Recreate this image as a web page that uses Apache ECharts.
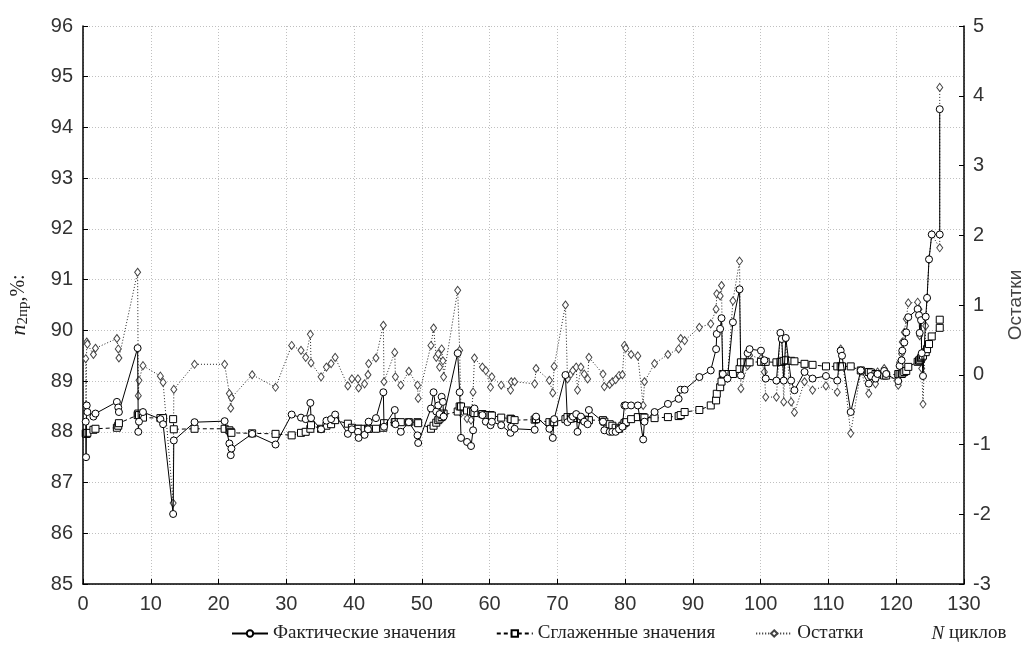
<!DOCTYPE html>
<html>
<head>
<meta charset="utf-8">
<script src="https://cdn.jsdelivr.net/npm/echarts@6/dist/echarts.min.js"></script>
<style>
html,body{margin:0;padding:0;background:#fff;}
#chart{width:1030px;height:653px;}
</style>
</head>
<body>
<div id="chart"></div>
<script>
// N cycles (x values)
const cycles = [0.40,0.45,0.55,0.65,1.54,1.84,5.0,5.2,5.3,8.06,8.16,8.26,8.85,11.42,11.82,13.30,13.40,16.46,20.90,21.60,21.80,21.90,
24.96,28.41,30.79,32.17,32.86,33.55,33.65,35.13,35.92,36.61,37.21,39.08,39.68,40.57,40.67,41.55,42.05,42.15,43.23,44.32,44.42,
46.00,46.10,46.89,48.08,49.36,49.46,51.34,51.73,52.13,52.42,52.62,52.92,53.11,53.21,55.29,55.58,55.78,56.67,57.26,57.56,57.76,
58.94,59.44,60.13,60.33,61.71,63.09,63.19,63.69,66.65,66.85,68.82,69.32,69.52,71.19,71.49,71.99,72.28,72.78,72.97,73.47,73.96,
74.46,74.65,76.73,76.93,77.72,78.11,78.60,79.10,79.59,79.89,80.09,80.88,81.87,82.66,82.85,84.34,86.31,87.89,88.19,88.78,90.95,
92.63,93.42,93.52,94.02,94.22,94.41,95.10,95.90,96.88,97.08,98.07,98.36,100.04,100.54,100.74,102.32,102.91,103.11,103.40,103.70,
104.49,104.98,106.47,107.65,109.63,111.30,111.80,112.00,113.28,114.77,115.95,116.25,116.94,117.24,118.22,118.52,120.30,120.50,
120.79,120.89,121.19,121.48,121.78,123.16,123.36,123.46,123.66,123.76,123.95,124.35,124.55,124.84,125.24,126.42,126.42];

// Фактические значения (left axis)
const actual = [88.20,87.50,88.52,88.39,88.30,88.36,88.59,88.48,88.39,89.65,88.00,88.20,88.39,88.25,88.15,86.38,87.83,88.19,88.21,87.77,87.54,87.67,
87.96,87.75,88.34,88.28,88.25,88.57,88.27,88.05,88.22,88.25,88.34,87.96,88.05,88.00,87.88,87.94,88.05,88.20,88.27,88.78,88.10,
88.43,88.15,88.00,88.19,87.93,87.78,88.46,88.78,88.40,88.52,88.35,88.69,88.59,88.30,89.55,88.78,87.88,87.80,87.72,88.03,88.46,
88.33,88.20,88.13,88.20,88.13,87.98,88.10,88.06,88.04,88.30,88.06,87.88,88.25,89.12,88.19,88.25,88.30,88.35,88.00,88.30,88.20,
88.15,88.43,88.20,88.03,88.00,88.00,88.00,88.05,88.10,88.52,88.52,88.52,88.52,87.85,88.20,88.39,88.55,88.65,88.83,88.83,89.08,
89.21,89.63,89.93,90.03,90.24,89.14,89.05,90.16,90.81,89.11,89.55,89.63,89.60,89.41,89.05,89.01,89.95,89.83,89.01,89.85,
89.01,88.82,89.18,89.05,89.10,89.01,89.60,89.50,88.39,89.21,88.95,89.10,89.05,89.14,89.20,89.14,89.00,89.30,
89.41,89.60,89.76,89.96,90.26,90.42,90.30,89.95,90.20,89.55,89.10,90.27,90.64,91.40,91.89,91.89,94.36];

// Сглаженные значения (left axis)
const smoothed = [87.97,87.96,87.96,87.98,88.04,88.06,88.08,88.12,88.17,88.33,88.36,88.33,88.28,88.27,88.27,88.25,88.05,88.06,88.06,88.03,88.00,87.98,
87.97,87.96,87.93,87.98,88.00,88.06,88.13,88.06,88.12,88.15,88.23,88.16,88.08,88.06,88.06,88.06,88.06,88.06,88.06,88.08,88.17,
88.19,88.19,88.19,88.19,88.19,88.17,88.06,88.12,88.18,88.23,88.26,88.29,88.33,88.36,88.40,88.50,88.50,88.42,88.40,88.39,88.37,
88.35,88.33,88.33,88.32,88.28,88.26,88.25,88.23,88.24,88.25,88.19,88.19,88.19,88.25,88.29,88.26,88.28,88.29,88.27,88.25,88.24,
88.23,88.23,88.23,88.20,88.15,88.12,88.08,88.06,88.12,88.17,88.19,88.25,88.29,88.29,88.28,88.27,88.29,88.31,88.33,88.39,88.43,
88.52,88.62,88.75,88.88,88.99,89.14,89.14,89.14,89.24,89.37,89.37,89.37,89.38,89.38,89.38,89.37,89.38,89.38,89.40,89.41,
89.40,89.39,89.34,89.32,89.29,89.29,89.29,89.29,89.29,89.21,89.18,89.17,89.14,89.13,89.11,89.11,89.14,89.14,
89.14,89.15,89.18,89.20,89.28,89.38,89.40,89.42,89.45,89.47,89.50,89.57,89.63,89.73,89.88,90.05,90.21];

// Остатки (right axis)
const residuals = [0.23,-0.44,0.47,0.44,0.29,0.38,0.52,0.37,0.24,1.47,-0.30,-0.08,0.13,-0.02,-0.11,-1.84,-0.21,0.15,0.15,-0.27,-0.48,-0.33,
0.00,-0.18,0.42,0.35,0.25,0.58,0.17,-0.03,0.11,0.16,0.25,-0.16,-0.06,-0.06,-0.19,-0.13,0.00,0.16,0.24,0.71,-0.10,
0.32,-0.03,-0.15,0.05,-0.15,-0.34,0.42,0.67,0.25,0.30,0.11,0.37,0.20,-0.03,1.21,0.35,-0.55,-0.63,-0.65,-0.25,0.24,
0.11,0.06,-0.18,-0.03,-0.15,-0.22,-0.10,-0.10,-0.13,0.09,-0.08,-0.26,0.12,1.00,-0.06,0.01,0.06,0.11,-0.22,0.11,0.01,
-0.06,0.25,0.01,-0.17,-0.14,-0.10,-0.07,-0.01,0.00,0.42,0.38,0.29,0.27,-0.44,-0.10,0.16,0.29,0.37,0.52,0.49,0.68,
0.73,0.94,1.16,1.13,1.28,0.01,-0.05,1.06,1.63,-0.20,0.13,0.28,0.23,0.04,-0.32,-0.32,0.59,0.51,-0.39,0.51,
-0.39,-0.54,-0.10,-0.22,-0.16,-0.25,0.37,0.28,-0.84,0.05,-0.27,-0.10,-0.13,0.04,0.09,0.04,-0.15,0.18,
0.30,0.47,0.61,0.80,1.03,1.04,0.94,0.56,0.80,0.09,-0.42,0.70,1.09,1.66,2.01,1.82,4.12];

const seriesNames = ['Фактические значения', 'Сглаженные значения', 'Остатки'];

const pairs = arr => cycles.map((x, i) => [x, arr[i]]);

const chart = echarts.init(document.getElementById('chart'), null, {renderer: 'canvas'});
const sans = 'Liberation Sans, Arial, sans-serif';
const serif = 'Liberation Serif, Times New Roman, serif';
const gridLine = {show: true, lineStyle: {color: '#c0c0c0', type: [1, 2], width: 1}};

chart.setOption({
  animation: false,
  backgroundColor: '#fff',
  grid: {left: 83, right: 66, top: 26, bottom: 69, containLabel: false, outerBoundsMode: 'none'},
  legend: {
    bottom: 5, left: 226,
    itemWidth: 36, itemHeight: 8, itemGap: 40,
    textStyle: {fontFamily: serif, fontSize: 19, color: '#222'},
    data: seriesNames
  },
  xAxis: {
    type: 'value', min: 0, max: 130, interval: 10,
    axisLine: {show: true, onZero: false, lineStyle: {color: '#000', width: 1.5}},
    axisTick: {show: true, inside: true, length: 5, lineStyle: {color: '#000'}},
    axisLabel: {fontFamily: sans, fontSize: 20, color: '#333', margin: 10},
    splitLine: gridLine,
    name: '{i|N} циклов',
    nameLocation: 'end', nameGap: 0,
    nameTextStyle: {
      fontFamily: serif, fontSize: 19, color: '#222', align: 'center', verticalAlign: 'top',
      padding: [40, 0, 0, 10],
      rich: {i: {fontFamily: serif, fontStyle: 'italic', fontSize: 19, color: '#222'}}
    }
  },
  yAxis: [{
    type: 'value', min: 85, max: 96, interval: 1,
    axisLine: {show: true, lineStyle: {color: '#000', width: 1.5}},
    axisTick: {show: true, inside: true, length: 5, lineStyle: {color: '#000'}},
    axisLabel: {fontFamily: sans, fontSize: 20, color: '#333', margin: 10},
    splitLine: gridLine,
    name: '{n|n}{s|2пр}{t|,%:}',
    nameLocation: 'middle', nameGap: 52, nameRotate: 90,
    nameTextStyle: {
      rich: {
        n: {fontFamily: serif, fontStyle: 'italic', fontSize: 22, color: '#222'},
        s: {fontFamily: serif, fontSize: 15, color: '#222', verticalAlign: 'bottom', padding: [9, 0, 0, 0]},
        t: {fontFamily: serif, fontSize: 20, color: '#222'}
      }
    }
  }, {
    type: 'value', min: -3, max: 5, interval: 1, position: 'right',
    axisLine: {show: true, lineStyle: {color: '#000', width: 1.5}},
    axisTick: {show: true, inside: true, length: 5, lineStyle: {color: '#000'}},
    axisLabel: {fontFamily: sans, fontSize: 20, color: '#333', margin: 9},
    splitLine: {show: false},
    name: 'Остатки',
    nameLocation: 'middle', nameGap: 42, nameRotate: 90,
    nameTextStyle: {fontFamily: sans, fontSize: 19, color: '#444'}
  }],
  series: [{
    name: seriesNames[0], type: 'line', yAxisIndex: 0,
    data: pairs(actual),
    symbol: 'circle', symbolSize: 7, showAllSymbol: true,
    itemStyle: {color: '#fff', borderColor: '#000', borderWidth: 1},
    lineStyle: {color: '#000', width: 1},
    z: 4
  }, {
    name: seriesNames[1], type: 'line', yAxisIndex: 0,
    data: pairs(smoothed),
    symbol: 'rect', symbolSize: 7, showAllSymbol: true,
    itemStyle: {color: '#fff', borderColor: '#000', borderWidth: 1},
    lineStyle: {color: '#000', width: 1, type: [4, 3]},
    z: 3
  }, {
    name: seriesNames[2], type: 'line', yAxisIndex: 1,
    data: pairs(residuals),
    symbol: 'diamond', symbolSize: [6, 8], showAllSymbol: true,
    itemStyle: {color: '#fff', borderColor: '#444', borderWidth: 1},
    lineStyle: {color: '#222', width: 1, type: [1, 2]},
    z: 2
  }]
});
</script>
</body>
</html>
